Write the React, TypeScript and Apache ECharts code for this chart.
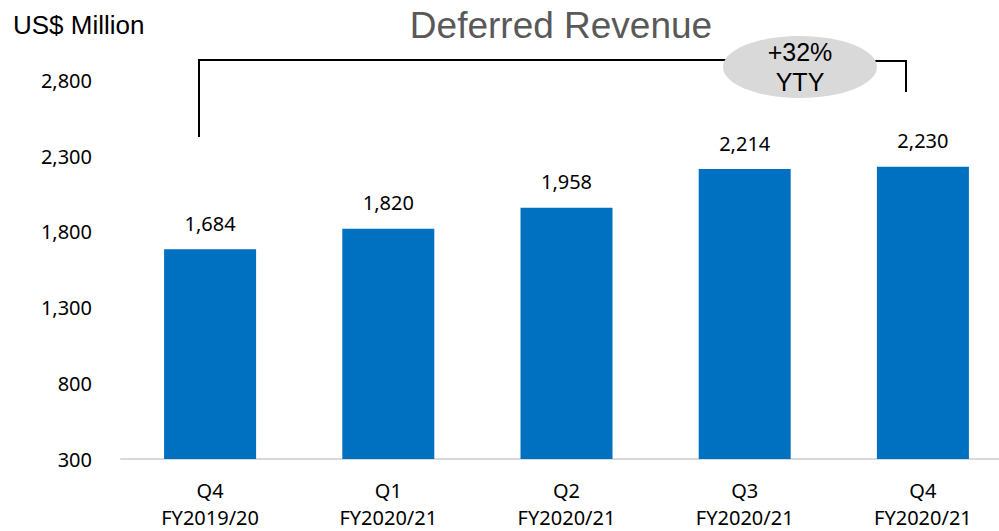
import React, { useEffect, useRef } from "react";
import * as echarts from "echarts";

const quarters = ["Q4", "Q1", "Q2", "Q3", "Q4"];
const fiscalYears = ["FY2019/20", "FY2020/21", "FY2020/21", "FY2020/21", "FY2020/21"];
const deferredRevenue = [1684, 1820, 1958, 2214, 2230];
const yTicks = [300, 800, 1300, 1800, 2300, 2800];
const growthText = ["+32%", "YTY"];
const unitLabel = "US$ Million";
const titleText = "Deferred Revenue";

const fmt = (v: number) => v.toLocaleString("en-US");

export default function App() {
  const ref = useRef<HTMLDivElement>(null);
  useEffect(() => {
    document.body.style.margin = "0";
    const chart = echarts.init(ref.current!, null, { renderer: "svg" });
    const categories = quarters.map((q, i) => q + "\n" + fiscalYears[i]);
    const lineStyle = { stroke: "#000", lineWidth: 2 };
    chart.setOption({
      animation: false,
      backgroundColor: "#fff",
      title: {
        text: titleText,
        left: 556,
        top: 2,
        textAlign: "center",
        textStyle: {
          fontFamily: "Liberation Sans",
          fontSize: 37,
          fontWeight: "normal",
          color: "#595959",
        },
      },
      grid: {
        left: 121,
        right: 0,
        top: 50,
        bottom: 72,
        containLabel: false,
        outerBoundsMode: "none",
      },
      xAxis: {
        type: "category",
        data: categories,
        axisLine: { show: true, lineStyle: { color: "#d9d9d9", width: 2 } },
        axisTick: { show: false },
        axisLabel: {
          color: "#000",
          fontFamily: "Noto Sans",
          fontSize: 20,
          lineHeight: 27,
          margin: 18,
          interval: 0,
        },
      },
      yAxis: {
        type: "value",
        min: yTicks[0],
        max: 3000,
        interval: yTicks[1] - yTicks[0],
        splitLine: { show: false },
        axisLine: { show: false },
        axisTick: { show: false },
        axisLabel: {
          showMaxLabel: false,
          color: "#000",
          fontFamily: "Noto Sans",
          fontSize: 20,
          margin: 29,
          formatter: (v: number) => (yTicks.includes(v) ? fmt(v) : ""),
        },
      },
      series: [
        {
          type: "bar",
          data: deferredRevenue,
          barWidth: 92,
          itemStyle: { color: "#0070c0" },
          label: {
            show: true,
            position: "top",
            distance: 16,
            color: "#000",
            fontFamily: "Noto Sans",
            fontSize: 20,
            formatter: (p: any) => fmt(p.value),
          },
        },
      ],
      graphic: [
        {
          type: "text",
          left: 13,
          top: 12,
          style: { text: unitLabel, fontFamily: "Liberation Sans", fontSize: 26, fill: "#000" },
        },
        { type: "line", shape: { x1: 199, y1: 60, x2: 199, y2: 137 }, style: lineStyle },
        { type: "line", shape: { x1: 198, y1: 60, x2: 726, y2: 60 }, style: lineStyle },
        { type: "line", shape: { x1: 874, y1: 61, x2: 907, y2: 61 }, style: lineStyle },
        { type: "line", shape: { x1: 906, y1: 60, x2: 906, y2: 92 }, style: lineStyle },
        {
          type: "ellipse",
          shape: { cx: 800, cy: 67, rx: 77, ry: 31 },
          style: { fill: "#d9d9d9" },
        },
        {
          type: "text",
          x: 800,
          y: 67,
          style: {
            text: growthText.join("\n"),
            fontFamily: "Liberation Sans",
            fontSize: 25,
            lineHeight: 30,
            fill: "#000",
            align: "center",
            verticalAlign: "middle",
          },
        },
      ],
    });
    return () => chart.dispose();
  }, []);
  return (
    <div style={{ width: 999, height: 531, overflow: "hidden", position: "relative" }}>
      <div ref={ref} style={{ width: 1012, height: 531 }} />
    </div>
  );
}
